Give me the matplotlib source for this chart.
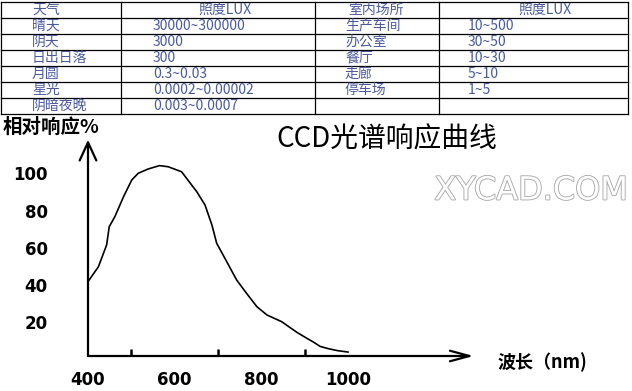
import matplotlib
matplotlib.use("Agg")
import matplotlib.pyplot as plt
import matplotlib.patheffects as pe

plt.rcParams['font.family'] = ['Noto Sans CJK SC', 'DejaVu Sans']

# table data
headers = ["天气", "照度LUX", "室内场所", "照度LUX"]
weather = ["晴天", "阴天", "日出日落", "月圆", "星光", "阴暗夜晚"]
weather_lux = ["30000~300000", "3000", "300", "0.3~0.03", "0.0002~0.00002", "0.003~0.0007"]
indoor = ["生产车间", "办公室", "餐厅", "走廊", "停车场"]
indoor_lux = ["10~500", "30~50", "10~30", "5~10", "1~5"]

# spectral response curve (wavelength nm, relative response %)
wavelength = [400, 424, 443, 449, 462, 482, 501, 516, 539, 565, 585, 616, 651, 670,
              686, 697, 720, 743, 766, 790, 813, 847, 882, 905, 920, 936, 955, 975, 1000]
response = [41.8, 49.8, 61.5, 71.3, 76.7, 87.4, 96.4, 100, 102.3, 104.1, 103.5, 100.8,
            90.1, 83, 72.2, 62.4, 52.6, 42.7, 35.5, 28.3, 23.9, 20.3, 14.6, 11.4,
            9.4, 7.0, 5.8, 4.8, 4.0]

x_ticks = [500, 600, 700, 800, 900, 1000]
x_labels = [400, 600, 800, 1000]
y_labels = [20, 40, 60, 80, 100]

W, H = 632, 391
fig = plt.figure(figsize=(W / 100, H / 100), dpi=100)

# background axes in pixel coordinates for table and free text
bg = fig.add_axes([0, 0, 1, 1])
bg.set_xlim(0, W)
bg.set_ylim(H, 0)
bg.axis('off')

col_x = [1, 120.5, 315, 439, 628]
row_y = [1.7 + 16 * i for i in range(8)]
for x in col_x:
    bg.plot([x, x], [row_y[0], row_y[-1]], color='black', lw=0.9)
for y in row_y:
    bg.plot([col_x[0], col_x[-1]], [y, y], color='black', lw=0.9)

tcol = '#4a5a9e'
fs = 10
hy = row_y[0] + 8
bg.text(32, hy, headers[0], ha='left', va='center', fontsize=fs, color=tcol)
bg.text(225, hy, headers[1], ha='center', va='center', fontsize=fs, color=tcol)
bg.text(376, hy, headers[2], ha='center', va='center', fontsize=fs, color=tcol)
bg.text(545, hy, headers[3], ha='center', va='center', fontsize=fs, color=tcol)
for i, (a, b) in enumerate(zip(weather, weather_lux)):
    y = row_y[i + 1] + 8
    bg.text(32, y, a, ha='left', va='center', fontsize=fs, color=tcol)
    bg.text(153, y, b, ha='left', va='center', fontsize=fs, color=tcol)
for i, (a, b) in enumerate(zip(indoor, indoor_lux)):
    y = row_y[i + 1] + 8
    bg.text(345, y, a, ha='left', va='center', fontsize=fs, color=tcol)
    bg.text(468, y, b, ha='left', va='center', fontsize=fs, color=tcol)

# titles and labels
bg.text(387, 140, "CCD光谱响应曲线", ha='center', va='center', fontsize=20)
bg.text(3, 127, "相对响应%", ha='left', va='center', fontsize=14, fontweight='bold')
bg.text(497, 362, "波长（nm)", ha='left', va='center', fontsize=13, fontweight='bold')
bg.text(531, 191, "XYCAD.COM", ha='center', va='center', fontsize=23, color='white',
        family='DejaVu Sans',
        path_effects=[pe.withStroke(linewidth=1.3, foreground='#aaaaaa')])

# chart axes
x0, x1 = 400, 1290
y0, y1 = 1.88, 118
px_per_nm = 0.4333
px_per_pct = 1.8625
left = 88
right = left + (x1 - x0) * px_per_nm
bottom_px = 359.5 - y0 * px_per_pct
top_px = 359.5 - y1 * px_per_pct
ax = fig.add_axes([left / W, (H - bottom_px) / H, (right - left) / W, (bottom_px - top_px) / H])
ax.patch.set_alpha(0)
ax.set_xlim(x0, x1)
ax.set_ylim(y0, y1)
for s in ax.spines.values():
    s.set_visible(False)

ax.plot(wavelength, response, color='black', lw=1.2)

ax.annotate('', xy=(x0, y1), xytext=(x0, y0),
            arrowprops=dict(arrowstyle='->,head_length=1.3,head_width=0.6', lw=1.6, color='black',
                            shrinkA=0, shrinkB=0), annotation_clip=False)
ax.annotate('', xy=(x1, y0), xytext=(x0, y0),
            arrowprops=dict(arrowstyle='->,head_length=1.4,head_width=0.38', lw=1.6, color='black',
                            shrinkA=0, shrinkB=0), annotation_clip=False)

ax.set_xticks(x_labels)
ax.set_xticklabels([str(v) for v in x_labels], fontsize=12, fontweight='bold', family='DejaVu Sans')
ax.set_xticks(x_ticks, minor=True)
ax.tick_params(axis='x', which='major', length=0, pad=11)
ax.tick_params(axis='x', which='minor', direction='in', length=5, width=1.8)
ax.set_yticks(y_labels)
ax.set_yticklabels([str(v) for v in y_labels], fontsize=12, fontweight='bold', family='DejaVu Sans')
ax.tick_params(axis='y', length=0, pad=29)

fig.savefig('out.png', dpi=100)
